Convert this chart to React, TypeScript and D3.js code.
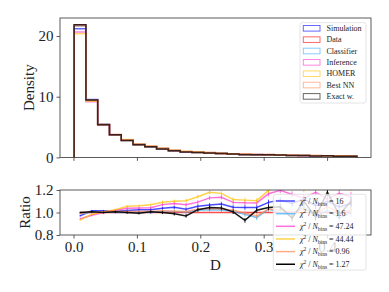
import React, { useEffect, useRef } from 'react';
import * as d3 from 'd3';

const WIDTH = 389;
const HEIGHT = 292;
const TOP = { left: 60, right: 371, top: 18, bottom: 157.4 };
const RAT = { left: 60, right: 371, top: 190, bottom: 235 };
const FONT = '"Liberation Serif", "DejaVu Serif", serif';

// histogram binning (24 equal bins)
const BIN_START = 0.001;
const BIN_END = 0.447;
const N_BINS = 24;

// density of the Data histogram, per bin
const dataDensity = [21.87, 9.4, 5.4, 3.7, 2.8, 2.1, 1.75, 1.4, 1.1, 0.92, 0.8, 0.7,
  0.62, 0.55, 0.49, 0.44, 0.4, 0.36, 0.32, 0.29, 0.26, 0.23, 0.2, 0.18];

// ratio to Data, per bin
const simRatio = [0.97, 1.015, 1.015, 1.012, 1.018, 1.025, 1.025, 1.037, 1.046, 1.03, 1.055, 1.067,
  1.076, 1.046, 1.045, 1.045, 1.09, 1.11, 1.08, 1.12, 1.06, 1.1, 1.05, 1.08];
const dataRatio = [1, 1, 1, 1, 1, 1, 1, 1, 1, 1, 1, 1, 1, 1, 1, 1, 1, 1, 1, 1, 1, 1, 1, 1];
const classifierRatio = [0.99, 1.0, 1.005, 1.0, 1.0, 1.005, 1.0, 1.01, 1.01, 1.005, 1.02, 1.024,
  1.022, 1.01, 0.985, 0.955, 1.03, 1.0, 0.98, 1.05, 0.96, 1.02, 0.95, 1.0];
const inferenceRatio = [0.945, 0.975, 1.0, 1.02, 1.037, 1.04, 1.043, 1.07, 1.08, 1.068, 1.092, 1.13,
  1.136, 1.09, 1.086, 1.085, 1.167, 1.197, 1.16, 1.13, 1.18, 1.12, 1.17, 1.14];
const homerRatio = [0.932, 0.985, 1.006, 1.025, 1.055, 1.06, 1.068, 1.092, 1.1, 1.105, 1.14, 1.18,
  1.17, 1.115, 1.11, 1.105, 1.197, 1.24, 1.3, 1.21, 1.28, 1.22, 1.26, 1.23];
const bestNNRatio = [0.99, 1.005, 1.005, 1.01, 1.008, 1.01, 1.01, 1.015, 1.012, 1.01, 1.03, 1.036,
  1.032, 1.02, 0.995, 0.97, 1.03, 1.02, 1.0, 1.04, 0.99, 1.05, 1.0, 1.02];
const exactRatio = [1.0, 1.006, 1.0, 1.006, 1.0, 0.994, 1.006, 1.0, 0.988, 0.97, 1.025, 1.045,
  1.04, 1.006, 0.93, 1.02, 1.045, 1.05, 0.95, 1.1, 0.96, 1.18, 0.98, 1.1];

// statistical error on the ratio, per bin
const ratioErr = [0.006, 0.008, 0.009, 0.01, 0.011, 0.012, 0.013, 0.014, 0.015, 0.016, 0.017, 0.018,
  0.019, 0.02, 0.021, 0.022, 0.024, 0.026, 0.028, 0.03, 0.032, 0.034, 0.036, 0.04];

const seriesNames = ['Simulation', 'Data', 'Classifier', 'Inference', 'HOMER', 'Best NN', 'Exact w.'];
const seriesColors = ['#0000ff', '#ff0000', '#33aaff', '#ff33cc', '#ffc000', '#ff8855', '#000000'];
const seriesRatios = [simRatio, dataRatio, classifierRatio, inferenceRatio, homerRatio, bestNNRatio, exactRatio];

// ratio legend (Data is not listed)
const chiSeries = [0, 2, 3, 4, 5, 6];
const chiValues = ['16', '1.6', '47.24', '44.44', '0.96', '1.27'];

const yTopTicks = [0, 10, 20];
const yRatTicks = [0.8, 1.0, 1.2];
const xTicks = [0.0, 0.1, 0.2, 0.3, 0.4];

export default function App() {
  const xTopAxisRef = useRef<SVGGElement>(null);
  const yTopAxisRef = useRef<SVGGElement>(null);
  const xRatAxisRef = useRef<SVGGElement>(null);
  const yRatAxisRef = useRef<SVGGElement>(null);

  const x = d3.scaleLinear().domain([-0.0213, 0.4693]).range([TOP.left, TOP.right]);
  const yTop = d3.scaleLinear().domain([0, 22.97]).range([TOP.bottom, TOP.top]);
  const yRat = d3.scaleLinear().domain([0.8, 1.2]).range([RAT.bottom, RAT.top]);

  const binW = (BIN_END - BIN_START) / N_BINS;
  const edges = d3.range(N_BINS + 1).map((i) => BIN_START + i * binW);
  const centers = d3.range(N_BINS).map((i) => BIN_START + (i + 0.5) * binW);

  const line = d3.line<[number, number]>();

  const stepPath = (ratio: number[]) => {
    const pts: [number, number][] = [[x(edges[0]), yTop(0)]];
    dataDensity.forEach((d, i) => {
      const v = d * ratio[i];
      pts.push([x(edges[i]), yTop(v)]);
      pts.push([x(edges[i + 1]), yTop(v)]);
    });
    pts.push([x(edges[N_BINS]), yTop(0)]);
    return line(pts) || '';
  };

  useEffect(() => {
    const style = (g: d3.Selection<SVGGElement, unknown, null, undefined>) => {
      g.select('.domain').remove();
      g.selectAll('line').attr('stroke', '#333').attr('stroke-width', 0.8);
      g.selectAll('text').attr('font-family', FONT).attr('font-size', 15).attr('fill', '#222');
    };
    d3.select(xTopAxisRef.current!)
      .call(d3.axisBottom(x).tickValues(xTicks).tickSize(3.5).tickFormat(() => ''))
      .call(style);
    d3.select(yTopAxisRef.current!)
      .call(d3.axisLeft(yTop).tickValues(yTopTicks).tickSize(3.5).tickPadding(3).tickFormat(d3.format('d')))
      .call(style);
    d3.select(xRatAxisRef.current!)
      .call(d3.axisBottom(x).tickValues(xTicks).tickSize(3.5).tickPadding(3).tickFormat(d3.format('.1f')))
      .call(style);
    d3.select(yRatAxisRef.current!)
      .call(d3.axisLeft(yRat).tickValues(yRatTicks).tickSize(3.5).tickPadding(3).tickFormat(d3.format('.1f')))
      .call(style);
  }, []);

  return (
    <svg width={WIDTH} height={HEIGHT} style={{ display: 'block', position: 'absolute', left: 0, top: 0 }}>
      <defs>
        <clipPath id='clipTop'>
          <rect x={TOP.left} y={TOP.top} width={TOP.right - TOP.left} height={TOP.bottom - TOP.top} />
        </clipPath>
        <clipPath id='clipRat'>
          <rect x={RAT.left} y={RAT.top} width={RAT.right - RAT.left} height={RAT.bottom - RAT.top} />
        </clipPath>
      </defs>
      <rect width={WIDTH} height={HEIGHT} fill='white' />

      {/* density panel */}
      <g clipPath='url(#clipTop)'>
        {seriesRatios.map((r, i) =>
          <path key={i} d={stepPath(r)} fill='none' stroke={seriesColors[i]}
            strokeOpacity={i === 6 ? 0.75 : 0.6} strokeWidth={1.5} />
        )}
      </g>
      <rect x={TOP.left} y={TOP.top} width={TOP.right - TOP.left} height={TOP.bottom - TOP.top}
        fill='none' stroke='#333' strokeWidth={0.8} />
      <g ref={xTopAxisRef} transform={`translate(0,${TOP.bottom})`} />
      <g ref={yTopAxisRef} transform={`translate(${TOP.left},0)`} />
      <text transform={`translate(29,${(TOP.top + TOP.bottom) / 2}) rotate(-90)`} textAnchor='middle'
        dominantBaseline='central' fontFamily={FONT} fontSize={15} fill='#222'>Density</text>

      <g>
        <rect x={300} y={22.7} width={66} height={80.3} rx={2} fill='white' fillOpacity={0.8}
          stroke='#ddd' strokeWidth={0.8} />
        {seriesNames.map((name, i) => {
          const yc = 28.3 + i * 11.35;
          return <g key={name}>
            <rect x={303.3} y={yc - 2.8} width={16.7} height={5.6} fill='none' stroke={seriesColors[i]}
              strokeOpacity={0.6} strokeWidth={1} />
            <text x={326.5} y={yc} dominantBaseline='central' fontFamily={FONT} fontSize={8} fill='#222'>{name}</text>
          </g>;
        })}
      </g>

      {/* ratio panel */}
      <g clipPath='url(#clipRat)'>
        {seriesRatios.map((r, i) =>
          <g key={i} stroke={seriesColors[i]} strokeOpacity={i === 6 ? 0.9 : 0.7}>
            <path d={line(centers.map((c, j) => [x(c), yRat(r[j])] as [number, number])) || ''}
              fill='none' strokeWidth={1.5} />
            {i !== 1 && centers.map((c, j) =>
              <line key={j} x1={x(c)} x2={x(c)} y1={yRat(r[j] - ratioErr[j])} y2={yRat(r[j] + ratioErr[j])}
                strokeWidth={1} />
            )}
          </g>
        )}
      </g>
      <rect x={RAT.left} y={RAT.top} width={RAT.right - RAT.left} height={RAT.bottom - RAT.top}
        fill='none' stroke='#333' strokeWidth={0.8} />
      <g ref={xRatAxisRef} transform={`translate(0,${RAT.bottom})`} />
      <g ref={yRatAxisRef} transform={`translate(${RAT.left},0)`} />
      <text transform={`translate(25,${(RAT.top + RAT.bottom) / 2}) rotate(-90)`} textAnchor='middle'
        dominantBaseline='central' fontFamily={FONT} fontSize={15} fill='#222'>Ratio</text>
      <text x={(RAT.left + RAT.right) / 2} y={265} textAnchor='middle' dominantBaseline='central'
        fontFamily={FONT} fontSize={15} fill='#222'>D</text>

      <g>
        <rect x={273.3} y={194.3} width={92.7} height={75.7} rx={2} fill='white' fillOpacity={0.8}
          stroke='#ddd' strokeWidth={0.8} />
        {chiSeries.map((s, i) => {
          const yc = 201 + i * 12.65;
          return <g key={s}>
            <line x1={276} x2={295} y1={yc} y2={yc} stroke={seriesColors[s]} strokeOpacity={s === 6 ? 1 : 0.7}
              strokeWidth={1.5} />
            <text x={300} y={yc + 2.8} fontFamily={FONT} fontSize={8} fill='#222'>
              <tspan fontStyle='italic'>χ</tspan>
              <tspan dy={-3} fontSize={5.5}>2</tspan>
              <tspan dy={3}> / </tspan>
              <tspan fontStyle='italic'>N</tspan>
              <tspan dy={1.8} fontSize={5.5}>bins</tspan>
              <tspan dy={-1.8}> = {chiValues[i]}</tspan>
            </text>
          </g>;
        })}
      </g>
    </svg>
  );
}
